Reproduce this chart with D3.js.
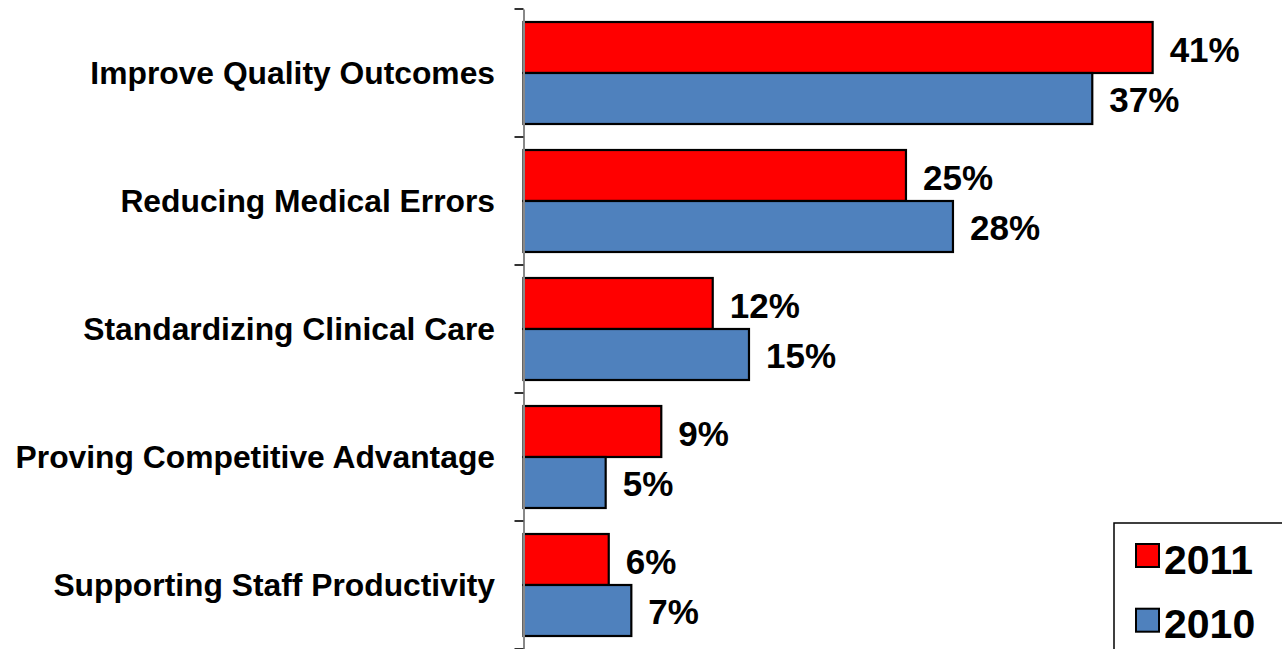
<!DOCTYPE html>
<html>
<head>
<meta charset="utf-8">
<script src="https://cdn.jsdelivr.net/npm/d3@7"></script>
<style>
  body { margin: 0; background: #fff; }
  svg { display: block; font-family: Arial, "Liberation Sans", sans-serif; font-weight: bold; }
</style>
</head>
<body>
<svg id="chart" width="1282" height="649"></svg>
<script>
'use strict';

// values, percent
const categories = [
  'Improve Quality Outcomes',
  'Reducing Medical Errors',
  'Standardizing Clinical Care',
  'Proving Competitive Advantage',
  'Supporting Staff Productivity'
];
const values2011 = [40.96, 24.9, 12.32, 8.97, 5.55];
const values2010 = [37.03, 27.96, 14.68, 5.35, 7.02];
const seriesNames = ['2011', '2010'];
const seriesColors = ['#ff0000', '#4f81bd'];

const AXIS_X = 523.5;
const svg = d3.select('#chart');

const y = d3.scaleBand()
  .domain(categories)
  .range([9, 649])
  .paddingInner(0)
  .paddingOuter(0);

const x = d3.scaleLinear()
  .domain([0, 45])
  .range([AXIS_X, AXIS_X + 45 * 15.36]);

const inner = d3.scaleBand()
  .domain(seriesNames)
  .range([0, y.bandwidth()])
  .paddingInner(0)
  .paddingOuter(0.255);

const rows = categories.map((c, i) => ({
  cat: c,
  vals: [values2011[i], values2010[i]]
}));

const group = svg.selectAll('g.cat')
  .data(rows)
  .enter()
  .append('g')
  .attr('class', 'cat')
  .attr('transform', d => 'translate(0,' + y(d.cat) + ')');

group.selectAll('rect')
  .data(d => d.vals.map((v, j) => ({ v: v, s: seriesNames[j], j: j })))
  .enter()
  .append('rect')
  .attr('x', x(0))
  .attr('y', d => inner(d.s))
  .attr('width', d => x(d.v) - x(0))
  .attr('height', inner.bandwidth())
  .style('fill', d => seriesColors[d.j])
  .style('stroke', '#000')
  .style('stroke-width', 2.2);

group.selectAll('text.val')
  .data(d => d.vals.map((v, j) => ({ v: v, s: seriesNames[j] })))
  .enter()
  .append('text')
  .attr('class', 'val')
  .attr('x', d => x(d.v) + 17)
  .attr('y', d => inner(d.s) + inner.bandwidth() / 2)
  .attr('dy', '0.4em')
  .style('font-size', '35px')
  .text(d => Math.round(d.v) + '%');

// category axis
const axis = d3.axisLeft(y)
  .tickValues([])
  .tickSizeOuter(0);

const axisG = svg.append('g')
  .attr('transform', 'translate(' + AXIS_X + ',0)')
  .call(axis);
axisG.select('.domain').attr('stroke', '#888').attr('stroke-width', 2);

// ticks between categories
const bounds = categories.map(c => y(c)).concat([y.range()[1]]);
axisG.selectAll('line.sep')
  .data(bounds)
  .enter()
  .append('line')
  .attr('class', 'sep')
  .attr('x1', -9)
  .attr('x2', 0)
  .attr('y1', d => d)
  .attr('y2', d => d)
  .attr('stroke', '#333')
  .attr('stroke-width', 2);

svg.append('g')
  .selectAll('text')
  .data(categories)
  .enter()
  .append('text')
  .attr('x', 495)
  .attr('y', d => y(d) + y.bandwidth() / 2)
  .attr('dy', '0.36em')
  .attr('text-anchor', 'end')
  .style('font-size', '31.8px')
  .text(d => d);

// legend
const legend = svg.append('g').attr('transform', 'translate(1114,523)');
legend.append('rect')
  .attr('x', 0).attr('y', 0)
  .attr('width', 200).attr('height', 200)
  .style('fill', '#fff')
  .style('stroke', '#000')
  .style('stroke-width', 1.5);

const item = legend.selectAll('g.item')
  .data(seriesNames)
  .enter()
  .append('g')
  .attr('class', 'item')
  .attr('transform', (d, i) => 'translate(22,' + (21 + i * 64.7) + ')');

item.append('rect')
  .attr('width', 23)
  .attr('height', 23)
  .style('fill', (d, i) => seriesColors[i])
  .style('stroke', '#000')
  .style('stroke-width', 2);

item.append('text')
  .attr('x', 28)
  .attr('y', 29.5)
  .style('font-size', '41px')
  .text(d => d);
</script>
</body>
</html>
